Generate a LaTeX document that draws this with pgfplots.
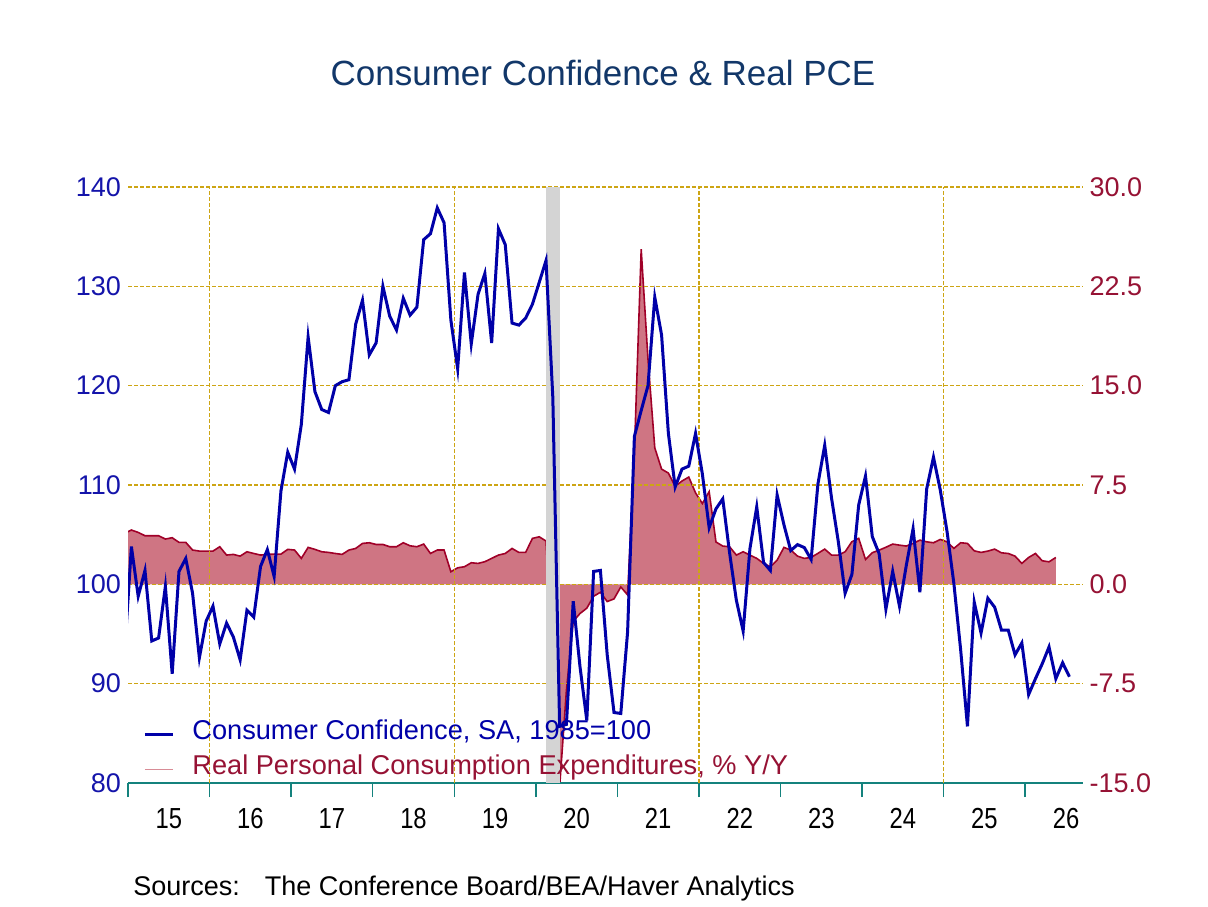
\documentclass[border=0pt]{standalone}
\usepackage{fontspec}
\setmainfont{Liberation Sans}
\usepackage{graphicx}
\usepackage{pgfplots}
\pgfplotsset{compat=1.18}
\usepackage{pgfplotstable}

\definecolor{ccblue}{RGB}{0,0,168}
\definecolor{cclabel}{RGB}{20,20,170}
\definecolor{pcered}{RGB}{160,0,40}
\definecolor{pcefill}{RGB}{207,117,131}
\definecolor{pcelegend}{RGB}{216,140,150}
\definecolor{rlabel}{RGB}{150,18,52}
\definecolor{titleblue}{RGB}{18,55,105}
\definecolor{gridgold}{RGB}{205,165,20}
\definecolor{axteal}{RGB}{20,130,125}
\definecolor{recgray}{RGB}{212,212,212}

\newcommand\yr[1]{\scalebox{0.82}[1]{#1}}

% Conference Board consumer confidence, SA, 1985=100 (t = months since Dec 2014)
\pgfplotstableread{
t cc
0 93.1
1 103.8
2 98.8
3 101.4
4 94.3
5 94.6
6 99.8
7 91.0
8 101.3
9 102.6
10 99.1
11 92.6
12 96.3
13 97.8
14 94.0
15 96.1
16 94.7
17 92.4
18 97.4
19 96.7
20 101.8
21 103.5
22 100.8
23 109.4
24 113.3
25 111.6
26 116.1
27 124.9
28 119.4
29 117.6
30 117.3
31 120.0
32 120.4
33 120.6
34 126.2
35 128.6
36 123.1
37 124.3
38 130.0
39 127.0
40 125.6
41 128.8
42 127.1
43 127.9
44 134.7
45 135.3
46 137.9
47 136.4
48 126.6
49 121.7
50 131.4
51 124.2
52 129.2
53 131.3
54 124.3
55 135.8
56 134.2
57 126.3
58 126.1
59 126.8
60 128.2
61 130.4
62 132.6
63 118.8
64 85.7
65 85.9
66 98.3
67 91.7
68 86.3
69 101.3
70 101.4
71 92.9
72 87.1
73 87.0
74 95.2
75 114.9
76 117.5
77 120.0
78 128.9
79 125.1
80 115.2
81 109.8
82 111.6
83 111.9
84 115.2
85 111.1
86 105.7
87 107.6
88 108.6
89 103.2
90 98.4
91 95.3
92 103.6
93 107.8
94 102.2
95 101.4
96 109.0
97 106.0
98 103.4
99 104.0
100 103.7
101 102.5
102 110.1
103 114.0
104 108.7
105 104.3
106 99.1
107 101.0
108 108.0
109 110.9
110 104.8
111 103.1
112 97.5
113 101.3
114 97.8
115 101.9
116 105.6
117 99.2
118 109.6
119 112.8
120 109.5
121 105.3
122 100.1
123 93.4
124 85.7
125 98.2
126 95.1
127 98.6
128 97.7
129 95.4
130 95.4
131 92.9
132 94.1
133 88.9
134 90.5
135 92.0
136 93.7
137 90.5
138 92.1
139 90.7
}\ccdata

% Real personal consumption expenditures, % Y/Y (t = months since Dec 2014)
\pgfplotstableread{
t pce
0 3.85
1 4.10
2 3.92
3 3.67
4 3.67
5 3.67
6 3.42
7 3.52
8 3.17
9 3.17
10 2.59
11 2.51
12 2.51
13 2.51
14 2.84
15 2.21
16 2.26
17 2.13
18 2.46
19 2.33
20 2.21
21 2.26
22 2.28
23 2.28
24 2.64
25 2.59
26 1.96
27 2.79
28 2.64
29 2.46
30 2.41
31 2.33
32 2.26
33 2.59
34 2.71
35 3.09
36 3.14
37 3.01
38 3.01
39 2.84
40 2.84
41 3.14
42 2.91
43 2.84
44 3.04
45 2.33
46 2.59
47 2.59
48 0.95
49 1.25
50 1.33
51 1.63
52 1.58
53 1.71
54 1.96
55 2.21
56 2.33
57 2.71
58 2.41
59 2.41
60 3.47
61 3.59
62 3.27
63 -6.0
64 -15.3
65 -8.0
66 -2.8
67 -2.2
68 -1.8
69 -0.9
70 -0.6
71 -1.3
72 -1.1
73 -0.2
74 -0.8
75 10.0
76 25.3
77 17.0
78 10.3
79 8.7
80 8.4
81 7.4
82 7.8
83 8.1
84 6.9
85 6.1
86 7.0
87 3.2
88 2.89
89 2.84
90 2.21
91 2.46
92 2.21
93 1.96
94 1.58
95 1.33
96 1.83
97 2.79
98 2.59
99 2.13
100 1.96
101 2.03
102 2.34
103 2.66
104 2.21
105 2.21
106 2.46
107 3.22
108 3.47
109 1.88
110 2.39
111 2.58
112 2.80
113 3.04
114 2.96
115 2.89
116 3.09
117 3.34
118 3.21
119 3.14
120 3.39
121 3.21
122 2.71
123 3.14
124 3.09
125 2.53
126 2.41
127 2.51
128 2.66
129 2.38
130 2.33
131 2.13
132 1.58
133 2.03
134 2.33
135 1.78
136 1.70
137 2.03
}\pcedata

\pgfplotsset{
  common/.style={
    at={(64pt,61.5pt)}, anchor=south west,
    scale only axis, width=477.5pt, height=298pt,
    xmin=0, xmax=140.5,
    /pgf/number format/assume math mode=true,
    tick label style={font=\fontsize{13.5}{16}\selectfont},
  },
}

\begin{document}
\begin{tikzpicture}
\path[use as bounding box] (0pt,0pt) rectangle (604pt,453pt);

% right scale: real PCE growth, year axis and grid
\begin{axis}[common,
  ymin=-15, ymax=30,
  axis on top,
  axis x line*=bottom, axis y line*=right,
  x axis line style={axteal, line width=0.75pt},
  y axis line style={draw=none},
  xtick={6,18,...,138},
  xticklabels={\yr{15},\yr{16},\yr{17},\yr{18},\yr{19},\yr{20},\yr{21},\yr{22},\yr{23},\yr{24},\yr{25},\yr{26}},
  xticklabel style={font=\fontsize{14.5}{17}\selectfont, black, yshift=-5pt},
  major x tick style={draw=none},
  minor xtick={0,12,...,132},
  minor x tick style={axteal, line width=0.75pt},
  minor tick length=7pt,
  tick align=outside,
  extra x ticks={12,48,84,120},
  extra x tick labels={},
  extra x tick style={grid=major, major tick length=0pt},
  ytick={-15,-7.5,0,7.5,15,22.5,30},
  yticklabel={\pgfmathprintnumber[fixed,fixed zerofill,precision=1]{\tick}},
  yticklabel style={rlabel, xshift=-4.5pt},
  y tick style={draw=none},
  ymajorgrids,
  grid style={gridgold, line width=0.6pt, dash pattern=on 2pt off 1pt},
]
\addplot[draw=none, fill=pcefill] table[x expr=\thisrow{t}-0.5, y=pce] {\pcedata} \closedcycle;
\addplot[pcered, line width=0.8pt] table[x expr=\thisrow{t}-0.5, y=pce] {\pcedata};
\end{axis}

% left scale: consumer confidence, recession shading, legend
\begin{axis}[common,
  ymin=80, ymax=140,
  hide x axis,
  axis y line*=left,
  y axis line style={draw=none},
  ytick={80,90,...,140},
  yticklabel style={cclabel},
  y tick style={draw=none},
  legend style={
    at={(axis description cs:0.0094,0.105)}, anchor=north west,
    draw=none, fill=none,
    font=\fontsize{13.6}{16}\selectfont,
    nodes={inner sep=0pt, text height=0.75em, text depth=0.25em},
    row sep=7.4pt, column sep=9pt,
  },
  legend cell align=left,
  legend image code/.code={\draw[#1] (0pt,0pt) -- (14pt,0pt);},
]
\addplot[fill=recgray, draw=none, forget plot] coordinates {(61.5,140) (63.5,140)} \closedcycle;
\addplot[ccblue, line width=1.5pt] table[x expr=\thisrow{t}-0.5, y=cc] {\ccdata};
\addlegendentry{\textcolor{ccblue}{Consumer Confidence, SA, 1985=100}}
\addlegendimage{pcelegend, line width=0.6pt}
\addlegendentry{\textcolor{rlabel}{Real Personal Consumption Expenditures, \% Y/Y}}
\end{axis}

\node[anchor=base, text=titleblue, font=\fontsize{17.5}{20}\selectfont, inner sep=0pt] at (301.5pt,410pt) {Consumer Confidence \& Real PCE};
\node[anchor=base west, font=\fontsize{13.5}{16}\selectfont, inner sep=0pt] at (66.5pt,5.5pt) {Sources:\hspace{12.5pt}The Conference Board/BEA/Haver Analytics};
\end{tikzpicture}
\end{document}
